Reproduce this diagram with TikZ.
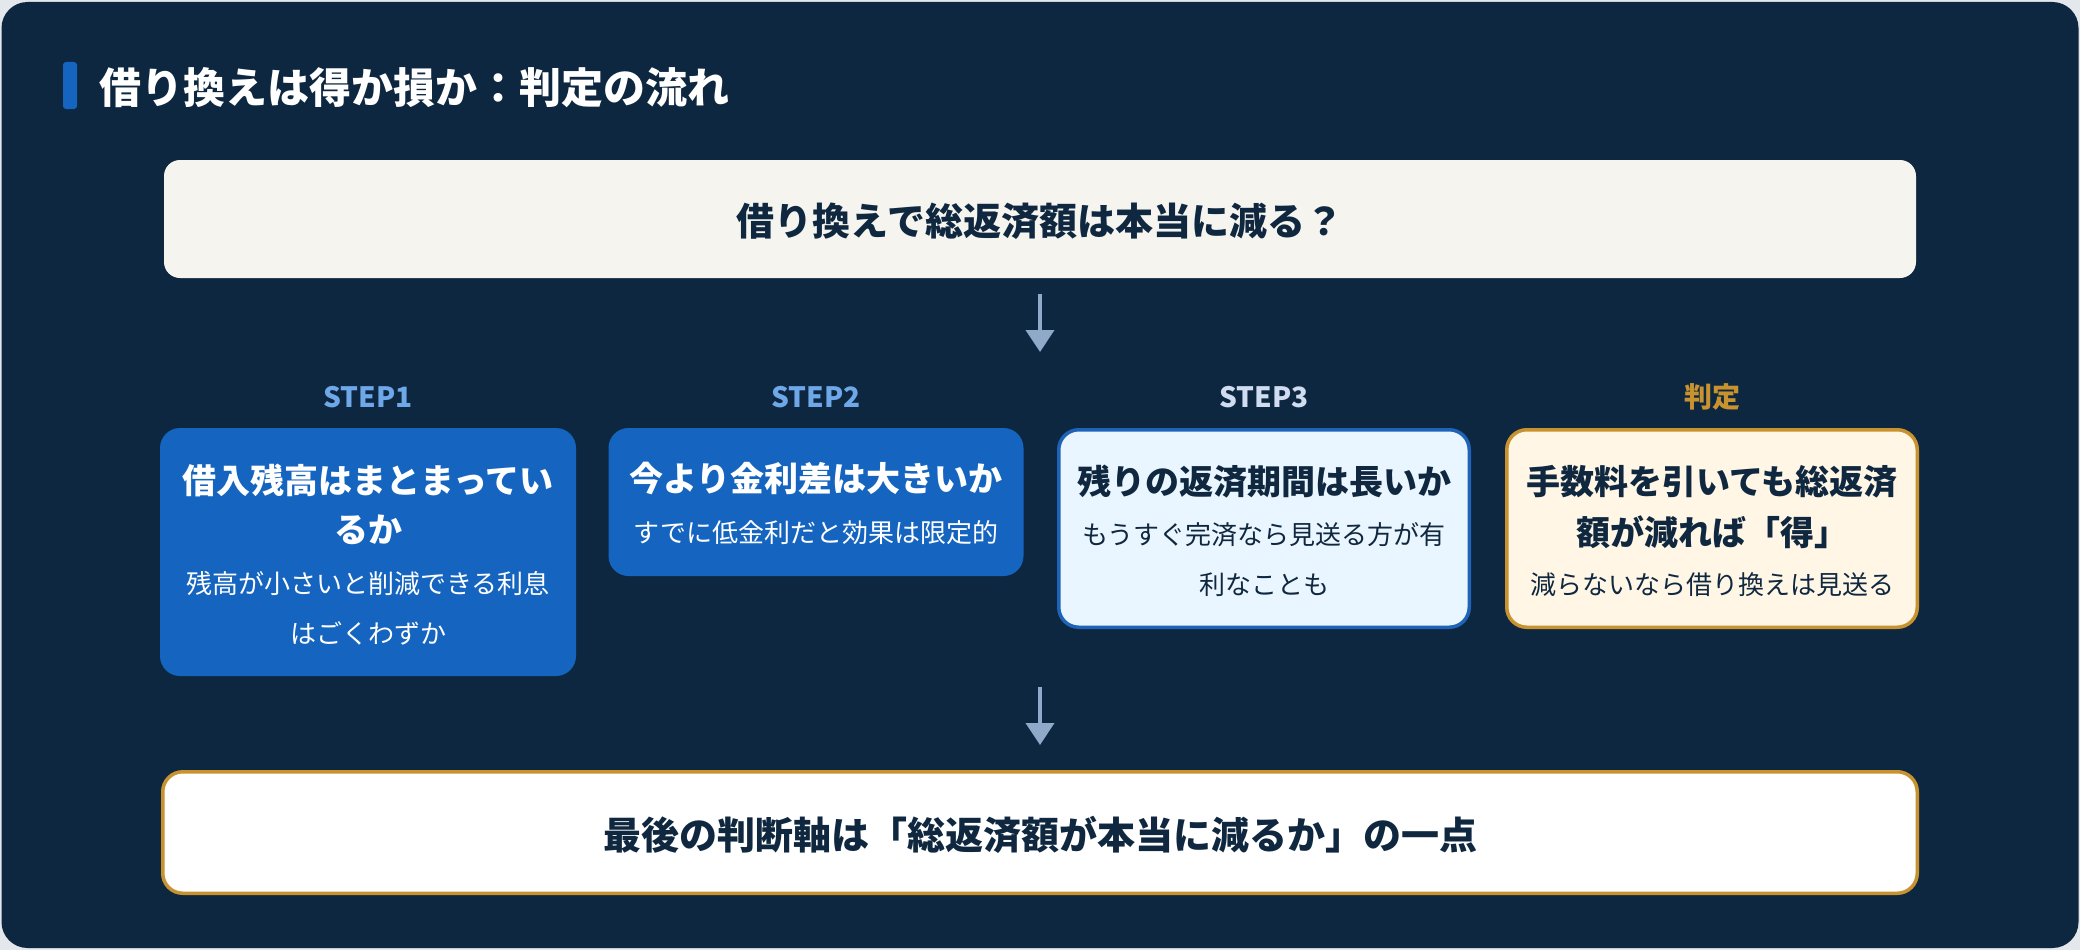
\documentclass[tikz,border=0pt]{standalone}
\usepackage{fontspec}
\newfontfamily\jp{Noto Sans CJK JP}
\usetikzlibrary{arrows.meta}
\definecolor{pagebg}{HTML}{E4E7EB}
\definecolor{navy}{HTML}{0E2741}
\definecolor{accent}{HTML}{1565C0}
\definecolor{qfill}{HTML}{F5F4EF}
\definecolor{ink}{HTML}{10283F}
\definecolor{lblue}{HTML}{EAF6FF}
\definecolor{bblue}{HTML}{1E63B8}
\definecolor{gold}{HTML}{C8922F}
\definecolor{lgold}{HTML}{FFF6E6}
\definecolor{arrc}{HTML}{8FA9C9}
\definecolor{stepc}{HTML}{6FA8E8}
\definecolor{step3c}{HTML}{D0DCEF}
\tikzset{
  box/.style={rectangle, rounded corners=20pt, inner sep=0pt, draw=none},
  bluebox/.style={box, fill=accent},
  lightbox/.style={box, fill=lblue, draw=bblue, line width=3.5pt},
  goldbox/.style={box, fill=lgold, draw=gold, line width=3.5pt},
  qbox/.style={rectangle, rounded corners=16pt, inner sep=0pt, fill=qfill},
  fbox/.style={rectangle, rounded corners=20pt, inner sep=0pt, fill=white, draw=gold, line width=3.5pt},
  hd/.style={inner sep=0pt, font=\jp\bfseries\fontsize{34}{40}\selectfont},
  sb/.style={inner sep=0pt, font=\jp\fontsize{26}{30}\selectfont},
  lbl/.style={inner sep=0pt, font=\jp\bfseries\fontsize{28}{32}\selectfont},
  big/.style={inner sep=0pt, font=\jp\bfseries\fontsize{38}{44}\selectfont, text=ink},
  ttl/.style={inner sep=0pt, anchor=west, font=\jp\bfseries\fontsize{42}{48}\selectfont, text=white},
  arr/.style={draw=arrc, line width=4pt, -{Triangle[width=28pt,length=22pt]}}
}
\begin{document}
\begin{tikzpicture}[x=1pt,y=-1pt]
\useasboundingbox (0,0) rectangle (2080,950);
\fill[pagebg] (0,0) rectangle (2080,950);
\fill[navy, rounded corners=26pt] (1.5,2) rectangle (2078.5,948);
% title
\fill[accent, rounded corners=3pt] (63,62) rectangle (77,109);
\node[ttl] (title) at (99,88) {借り換えは得か損か：判定の流れ};
% question box
\node[qbox, minimum width=1752pt, minimum height=118pt] (q) at (1040,219) {};
\node[big] (qt) at (1040,221) {借り換えで総返済額は本当に減る？};
% arrow 1
\coordinate (a1s) at (1040,294);
\coordinate (a1e) at (1040,352);
\draw[arr] (a1s) -- (a1e);
% labels
\node[lbl, text=stepc] (l1) at (368,397) {STEP1};
\node[lbl, text=stepc] (l2) at (816,397) {STEP2};
\node[lbl, text=step3c] (l3) at (1264,397) {STEP3};
\node[lbl, text=gold] (l4) at (1712,397) {判定};
% step boxes
\node[bluebox, minimum width=416pt, minimum height=248pt] (s1) at (368,552) {};
\node[bluebox, minimum width=415pt, minimum height=148pt] (s2) at (816,502) {};
\node[lightbox, minimum width=410.5pt, minimum height=197.5pt] (s3) at (1264,528.5) {};
\node[goldbox, minimum width=410.5pt, minimum height=197.5pt] (s4) at (1712,528.5) {};
% step 1 text
\node[hd, text=white] (s1a) at (368,480) {借入残高はまとまってい};
\node[hd, text=white] (s1b) at (368,530) {るか};
\node[sb, text=white] (s1c) at (368,583) {残高が小さいと削減できる利息};
\node[sb, text=white] (s1d) at (368,633) {はごくわずか};
% step 2 text
\node[hd, text=white] (s2a) at (816,478) {今より金利差は大きいか};
\node[sb, text=white] (s2b) at (816,533) {すでに低金利だと効果は限定的};
% step 3 text
\node[hd, text=ink] (s3a) at (1264,482) {残りの返済期間は長いか};
\node[sb, text=ink] (s3b) at (1264,535) {もうすぐ完済なら見送る方が有};
\node[sb, text=ink] (s3c) at (1264,585) {利なことも};
% step 4 text
\node[hd, text=ink] (s4a) at (1712,482) {手数料を引いても総返済};
\node[hd, text=ink] (s4b) at (1712,532) {額が減れば「得」};
\node[sb, text=ink] (s4c) at (1712,585) {減らないなら借り換えは見送る};
% arrow 2
\coordinate (a2s) at (1040,687);
\coordinate (a2e) at (1040,745);
\draw[arr] (a2s) -- (a2e);
% final box
\node[fbox, minimum width=1754.5pt, minimum height=121.5pt] (f) at (1040,832.5) {};
\node[big] (ft) at (1040,835) {最後の判断軸は「総返済額が本当に減るか」の一点};
\end{tikzpicture}
\end{document}
